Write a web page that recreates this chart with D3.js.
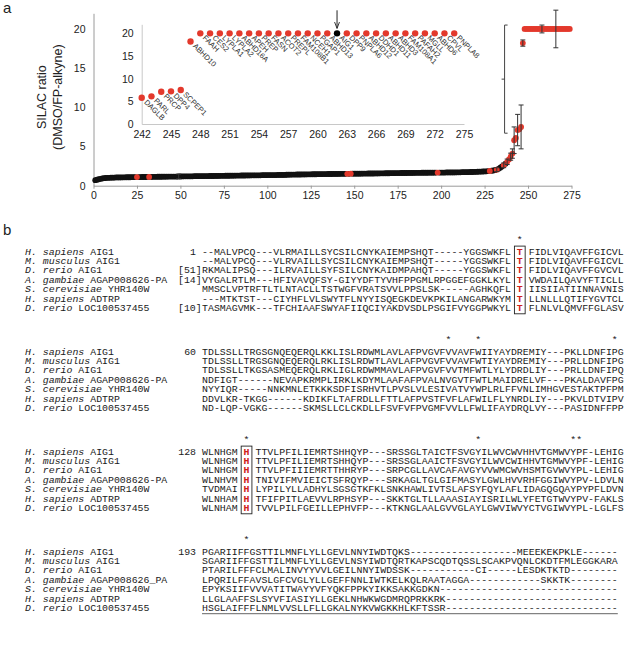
<!DOCTYPE html>
<html><head><meta charset="utf-8">
<script src="https://cdn.jsdelivr.net/npm/d3@7/dist/d3.min.js"></script>
<style>body{margin:0;background:#fff}svg{display:block}</style>
</head><body>
<svg id="fig" width="625" height="647"></svg>
<script>
// ---------------- DATA ----------------
// Panel a: SILAC ratio for each of 274 ranked proteins (rank 1..274)
const ratio = [
0.70,0.76,0.82,0.88,0.92,0.96,0.98,1.00,1.01,1.02,
1.03,1.04,1.05,1.05,1.06,1.06,1.07,1.07,1.08,1.08,
1.08,1.09,1.09,1.09,1.10,1.10,1.10,1.11,1.11,1.11,
1.12,1.12,1.12,1.13,1.13,1.13,1.14,1.14,1.14,1.15,
1.15,1.15,1.16,1.16,1.16,1.17,1.17,1.17,1.18,1.18,
1.18,1.19,1.19,1.19,1.20,1.20,1.20,1.21,1.21,1.21,
1.22,1.22,1.22,1.23,1.23,1.23,1.24,1.24,1.24,1.25,
1.25,1.25,1.26,1.26,1.26,1.27,1.27,1.27,1.28,1.28,
1.28,1.29,1.29,1.29,1.30,1.30,1.30,1.31,1.31,1.31,
1.32,1.32,1.32,1.33,1.33,1.33,1.34,1.34,1.34,1.35,
1.35,1.35,1.36,1.36,1.36,1.37,1.37,1.37,1.38,1.38,
1.40,1.41,1.41,1.42,1.42,1.42,1.43,1.43,1.43,1.44,
1.44,1.44,1.45,1.45,1.45,1.46,1.46,1.46,1.47,1.47,
1.47,1.48,1.48,1.48,1.49,1.49,1.49,1.50,1.50,1.50,
1.50,1.51,1.51,1.51,1.52,1.52,1.52,1.53,1.53,1.53,
1.53,1.54,1.54,1.54,1.55,1.55,1.55,1.56,1.56,1.56,
1.56,1.57,1.57,1.57,1.58,1.58,1.58,1.59,1.59,1.59,
1.60,1.60,1.60,1.61,1.61,1.61,1.62,1.62,1.62,1.62,
1.63,1.63,1.63,1.63,1.64,1.64,1.64,1.64,1.65,1.65,
1.65,1.65,1.66,1.66,1.66,1.66,1.67,1.67,1.67,1.68,
1.68,1.68,1.69,1.69,1.69,1.70,1.70,1.70,1.71,1.71,
1.71,1.72,1.72,1.73,1.73,1.74,1.75,1.75,1.76,1.77,
1.78,1.79,1.80,1.81,1.82,1.84,1.86,1.88,1.91,1.94,
1.98,2.05,2.15,2.30,2.45,2.60,2.80,3.05,3.35,3.70,4.10,
5.8,6.1,7.1,7.2,7.5,18.2,
20,20,20,20,20,20,20,20,20,20,20,20,20,20,20,20,20,20,20,20,20,20,20,20,20,20,20
];
// ranks drawn in red (serine hydrolases)
const hitRank = [25,32,146,148,198,228,232,236,238,239,240,241,
242,243,244,245,246,247,248,249,250,251,252,253,254,255,256,257,258,259,260,
261,262,263,264,265,266,267,268,269,270,271,272,273,274];
// error bars
const errRank  = [49, 232, 236, 238, 240, 241, 242, 244, 246, 247, 258, 266];
const errValue = [0.3,0.25,0.3, 0.35,0.45,0.6, 1.7, 2.0, 2.8, 0.4, 0.5, 2.4];
const mainXTicks = [0,25,50,75,100,125,150,175,200,225,250,275];
const mainYTicks = [0,5,10,15,20];

// Inset (ranks 242..274)
const insetRank = [242,243,244,245,246,247,248,249,250,251,252,253,254,255,256,257,258,
259,260,261,262,263,264,265,266,267,268,269,270,271,272,273,274];
const insetNames = ["DAGLB","PARL","PRCP","DPP4","SCPEP1","ABHD10","FAAH","CES2","LYPLA1",
"LYPLA2","ABHD16A","APEH","PREP","FASN","ACOT2","PREPL","FAM108B1","NCEH1","PGAP1","ABHD13",
"AIG1","DPP9","PNPLA6","ABHD12","DDHD1","ABHD11","ABHD3","FAM108A1","PAFAH2","MGLL","ABHD6",
"CPVL","PNPLA8"];
const insetValues = [5.8,6.1,7.1,7.2,7.5,18.2,20,20,20,20,20,20,20,20,20,20,20,20,20,20,
20,20,20,20,20,20,20,20,20,20,20,20,20];
const insetHighlight = "AIG1";
const insetXTicks = [242,245,248,251,254,257,260,263,266,269,272,275];
const insetYTicks = [0,5,10,15,20];

// Panel b: alignment
const speciesNames = ["H. sapiens","M. musculus","D. rerio","A. gambiae","S. cerevisiae","H. sapiens","D. rerio"];
const geneNames = [
 ["AIG1","AIG1","AIG1","AGAP008626-PA","YHR140W","ADTRP","LOC100537455"],
 ["AIG1","AIG1","AIG1","AGAP008626-PA","YHR140W","ADTRP","LOC100537455"],
 ["AIG1","AIG1","AIG1","AGAP008626-PA","YHR140W","ADTRP","LOC100537455"],
 ["AIG1","AIG1","AIG1","AGAP008626_PA","YHR140W","ADTRP","LOC100537455"]];
const startNumbers = ["1","60","128","193"];
const bracketPrefix = [["","","[51]","[14]","","","[10]"],["","","","","","",""],["","","","","","",""],["","","","","","",""]];
const sequences = [
 ["--MALVPCQ---VLRMAILLSYCSILCNYKAIEMPSHQT-----YGGSWKFL T FIDLVIQAVFFGICVL",
  "--MALVPCQ---VLRVAILLSYCSILCNYKAIEMPSHQT-----YGGSWKFL T FIDLVIQAVFFGICVL",
  "RKMALIPSQ---ILRVAILLSYFSILCNYKAIDMPAHQT-----YGGSWKFL T FIDLVIQAVFFGVCVL",
  "VYGALRTLM---HFIVAVQFSY-GIYYDFTYVHFPPGMLRPGGEFGGKLKYL T VWDAILQAVYFTICLL",
  "MMSCLVPTRFTLTLNTACLLTSTWGFVRATSVVLPPSLSK-----AGHKQFL T IISIIATIINNAVNIS",
  "---MTKTST---CIYHFLVLSWYTFLNYYISQEGKDEVKPKILANGARWKYM T LLNLLLQTIFYGVTCL",
  "TASMAGVMK---TFCHIAAFSWYAFIIQCIYAKDVSDLPSGIFVYGGPWKYL T FLNLVLQMVFFGLASV"],
 ["TDLSSLLTRGSGNQEQERQLKKLISLRDWMLAVLAFPVGVFVVAVFWIIYAYDREMIY---PKLLDNFIPG",
  "TDLSSLLTRGSGNQEQERQLRKLISLRDWTLAVLAFPVGVFVVAVFWTIYAYDREMIY---PRLLDNFIPG",
  "TDLSSLLTKGSASMEQERQLRKLIGLRDWMMAVLAFPVGVFVVTMFWTLYLYDRDLIY---PRLLDNFIPQ",
  "NDFIGT------NEVAPKRMPLIRKLKDYMLAAFAFPVALNVGVTFWTLMAIDRELVF---PKALDAVFPG",
  "NYYIQR-----NNKMNLETKKKSDFISRHVTLPVSLVLESIVATVYWPLRLFFVNLIMHGVESTAKTPFPM",
  "DDVLKR-TKGG------KDIKFLTAFRDLLFTTLAFPVSTFVFLAFWILFLYNRDLIY---PKVLDTVIPV",
  "ND-LQP-VGKG------SKMSLLCLCKDLLFSVFVFPVGMFVVLLFWLIFAYDRQLVY---PASIDNFFPP"],
 ["WLNHGM H TTVLPFILIEMRTSHHQYP---SRSSGLTAICTFSVGYILWVCWVHHVTGMWVYPF-LEHIG",
  "WLNHGM H TTVLPFILIEMRTSHHQYP---SRSSGLAAICTFSVGYILWVCWIHHVTGMWVYPF-LEHIG",
  "WLNHGM H TTVLPFIIIEMRTTHHRYP---SRPCGLLAVCAFAVGYVVWMCWVHSMTGVWVYPL-LEHIG",
  "WLNHVM H TNIVIFMVIEICTSFRQYP---SRKAGLTGLGIFMASYLGWLHVVRHFGGIWVYPV-LDVLN",
  "TVDMAI H LYPILYLLADHYLSGSGTKFKLSNKHAWLIVTSLAFSYFQYLAFLIDAGQGQAYPYPFLDVN",
  "WLNHAM H TFIFPITLAEVVLRPHSYP---SKKTGLTLLAAASIAYISRILWLYFETGTWVYPV-FAKLS",
  "WLNHAM H TVVLPILFGEILLEPHVFP---KTKNGLAALGVVGLAYLGWVIWVYCTVGIWVYPL-LGLFS"],
 ["PGARIIFFGSTTILMNFLYLLGEVLNNYIWDTQKS------------------MEEEKEKPKLE------",
  "SGARIIFFGSTTILMNFLYLLGEVLNSYIWDTQRTKAPSCQDTQSSLSCAKPVQNLCKDTFMLEGGKARA",
  "PTARILFFFCLMALINVYYVVLGEILNNYIWDSSK-----------CI-----LESDKTKTD--------",
  "LPQRILFFAVSLGFCVGLYLLGEFFNNLIWTKELKQLRAATAGGA------------SKKTK--------",
  "EPYKSIIFVVVATITWAYYVFYQKFPPKYIKKSAKKGDKN------------------------------",
  "LLGLAAFFSLSYVFIASIYLLGEKLNHWKWGDMRQPRKKRK-----------------------------",
  "HSGLAIFFFLNMLVVSLLFLLGKALNYKVWGKKHLKFTSSR-----------------------------"]];
const starColumns = [[54],[42,47,70],[8,47,63,64],[8]];
const boxColumns = [[54],[],[8],[]];

// ---------------- DRAWING ----------------
const svg = d3.select("#fig");
const sans = "'Liberation Sans', Arial, Helvetica, sans-serif";
const mono = "'Liberation Mono', 'Courier New', monospace";
const RED = "#e3392c";
const AX = "#9a9a9a";

svg.append("text").attr("x",3).attr("y",13).text("a")
  .style("font-family",sans).style("font-size","15px").attr("fill","#222");
svg.append("text").attr("x",3).attr("y",235).text("b")
  .style("font-family",sans).style("font-size","15px").attr("fill","#222");

// ---- main chart ----
const x = d3.scaleLinear().domain([0,275]).range([93.5,571.5]);
const y = d3.scaleLinear().domain([0,22]).range([185.7,13.3]);
const gM = svg.append("g");

const gx = gM.append("g").attr("transform",`translate(0,${y(0)})`)
  .call(d3.axisBottom(x).tickValues(mainXTicks).tickSizeInner(3).tickSizeOuter(0).tickPadding(3));
const gy = gM.append("g").attr("transform",`translate(${x(0)},0)`)
  .call(d3.axisLeft(y).tickValues(mainYTicks).tickSizeInner(0).tickSizeOuter(0).tickPadding(8));
[gx,gy].forEach(g=>{
  g.select(".domain").attr("stroke",AX);
  g.selectAll(".tick line").attr("stroke",AX);
  g.selectAll(".tick text").style("font-family",sans).style("font-size","10.5px").attr("fill","#222");
});

gM.append("text").attr("transform",`translate(45.5,${y(11.3)}) rotate(-90)`)
  .attr("text-anchor","middle").style("font-family",sans).style("font-size","12.5px").attr("fill","#222")
  .text("SILAC ratio");
gM.append("text").attr("transform",`translate(62,${y(11.3)}) rotate(-90)`)
  .attr("text-anchor","middle").style("font-family",sans).style("font-size","12.5px").attr("fill","#222")
  .text("(DMSO/FP-alkyne)");

const hitSet = new Set(hitRank);
const pts = ratio.map((v,i)=>({r:i+1,v,hit:hitSet.has(i+1)}));
gM.append("g").selectAll("circle").data(pts.filter(d=>!d.hit)).join("circle")
  .attr("cx",d=>x(d.r)).attr("cy",d=>y(d.v)).attr("r",2.9).attr("fill","#111");
gM.append("g").selectAll("circle").data(pts.filter(d=>d.hit)).join("circle")
  .attr("cx",d=>x(d.r)).attr("cy",d=>y(d.v)).attr("r",2.9).attr("fill",RED);

const errs = errRank.map((r,i)=>({r,v:ratio[r-1],e:errValue[i]}));
const ge = gM.append("g").attr("stroke","#333").attr("stroke-width",1);
ge.selectAll("line.v").data(errs).join("line").attr("class","v")
  .attr("x1",d=>x(d.r)).attr("x2",d=>x(d.r)).attr("y1",d=>y(d.v-d.e)).attr("y2",d=>y(d.v+d.e));
ge.selectAll("line.t").data(errs).join("line").attr("class","t")
  .attr("x1",d=>x(d.r)-2.5).attr("x2",d=>x(d.r)+2.5).attr("y1",d=>y(d.v+d.e)).attr("y2",d=>y(d.v+d.e));
ge.selectAll("line.b").data(errs).join("line").attr("class","b")
  .attr("x1",d=>x(d.r)-2.5).attr("x2",d=>x(d.r)+2.5).attr("y1",d=>y(d.v-d.e)).attr("y2",d=>y(d.v-d.e));

// bracket linking inset to the curve
const bx = x(236.5), bTop = y(20.5), bBot = y(6.7), bMid = (bTop+bBot)/2;
gM.append("path").attr("fill","none").attr("stroke","#444").attr("stroke-width",1)
  .attr("d",`M${bx+3},${bTop}H${bx}V${bBot}H${bx+3}M${bx},${bMid}H${bx-3}`);

// ---- inset ----
const ix = d3.scaleLinear().domain([242,275]).range([141.7,464]);
const iy = d3.scaleLinear().domain([0,22]).range([124,24.3]);
const gI = svg.append("g");
const igx = gI.append("g").attr("transform",`translate(0,${iy(0)})`)
  .call(d3.axisBottom(ix).tickValues(insetXTicks).tickSizeInner(0).tickSizeOuter(0).tickPadding(7));
const igy = gI.append("g").attr("transform",`translate(${ix(242)},0)`)
  .call(d3.axisLeft(iy).tickValues(insetYTicks).tickSizeInner(0).tickSizeOuter(0).tickPadding(8));
[igx,igy].forEach(g=>{
  g.select(".domain").attr("stroke","#c8c8c8");
  g.selectAll(".tick text").style("font-family",sans).style("font-size","10.5px").attr("fill","#222");
});
const ipts = insetRank.map((r,i)=>({r,v:insetValues[i],n:insetNames[i]}));
gI.append("g").selectAll("circle").data(ipts).join("circle")
  .attr("cx",d=>ix(d.r)).attr("cy",d=>iy(d.v)).attr("r",3.2)
  .attr("fill",d=>d.n===insetHighlight?"#000":RED);
gI.append("g").selectAll("text").data(ipts).join("text")
  .attr("transform",d=>`translate(${ix(d.r)+2},${iy(d.v)+5}) rotate(45)`)
  .style("font-family",sans).style("font-size","7.5px").attr("fill","#333")
  .text(d=>d.n);
// arrow to AIG1
const ax0 = ix(262);
svg.append("defs").append("marker").attr("id","ah").attr("viewBox","0 0 10 10")
  .attr("refX",9).attr("refY",5).attr("markerWidth",7).attr("markerHeight",7).attr("orient","auto")
  .append("path").attr("d","M0,1.5L9,5L0,8.5").attr("fill","none").attr("stroke","#222").attr("stroke-width",1.3);
gI.append("line").attr("x1",ax0).attr("x2",ax0).attr("y1",iy(22)-14).attr("y2",iy(20)-5)
  .attr("stroke","#222").attr("stroke-width",1).attr("marker-end","url(#ah)");

// ---- panel b: alignment ----
const cw = 5.94;
const col = d3.scaleLinear().domain([0,71]).range([202,202+71*cw]);
const row1Y = [254.5,354.5,454.5,554.5];
const rowH = 9.45;
const gA = svg.append("g").style("font-family",mono).style("font-size","9.9px").attr("fill","#1a1a1a");

sequences.forEach((blk,b)=>{
  const yb = r=>row1Y[b]+r*rowH;
  // stars: one text, one glyph position per starred column
  gA.append("text").attr("y",yb(0)-11.6).attr("text-anchor","middle")
    .attr("x",starColumns[b].map(c=>col(c-1)+cw/2).join(" "))
    .text(starColumns[b].map(()=>"*").join(""));
  // box
  boxColumns[b].forEach(c=>{
    gA.append("rect").attr("x",col(c-1)-2.4).attr("width",cw+4.8)
      .attr("y",yb(0)-8.4).attr("height",6*rowH+11)
      .attr("fill","none").attr("stroke","#222").attr("stroke-width",0.9);
  });
  blk.forEach((seq,r)=>{
    const t = gA.append("text").attr("x",25).attr("y",yb(r));
    t.append("tspan").style("font-style","italic").text(speciesNames[r]);
    t.append("tspan").attr("dx",cw).text(geneNames[b][r]);
    if(r===0) gA.append("text").attr("x",col(0)-cw).attr("y",yb(r)).attr("text-anchor","end").text(startNumbers[b]);
    if(bracketPrefix[b][r]) gA.append("text").attr("x",col(0)-0.3).attr("y",yb(r)).attr("text-anchor","end").text(bracketPrefix[b][r]);
    // sequence row: runs of residues, each glyph placed on its column
    const runs = [];
    seq.split("").forEach((ch,i)=>{
      if(ch===" ") return;
      const box = boxColumns[b].includes(i+1);
      const last = runs[runs.length-1];
      if(last && last.box===box && last.end===i-1){ last.s+=ch; last.xs.push(col(i)+cw/2); last.end=i; }
      else runs.push({s:ch, xs:[col(i)+cw/2], box, end:i});
    });
    const st = gA.append("text").attr("y",yb(r)).attr("text-anchor","middle");
    runs.forEach(run=>{
      st.append("tspan").attr("x",run.xs.join(" "))
        .attr("fill",run.box?"#d0201a":null).style("font-weight",run.box?"bold":null)
        .text(run.s);
    });
  });
  if(b===3){
    gA.append("line").attr("x1",col(0)).attr("x2",col(blk[6].length)).attr("y1",yb(6)+2.5).attr("y2",yb(6)+2.5)
      .attr("stroke","#222").attr("stroke-width",0.7);
  }
});
</script>
</body></html>
